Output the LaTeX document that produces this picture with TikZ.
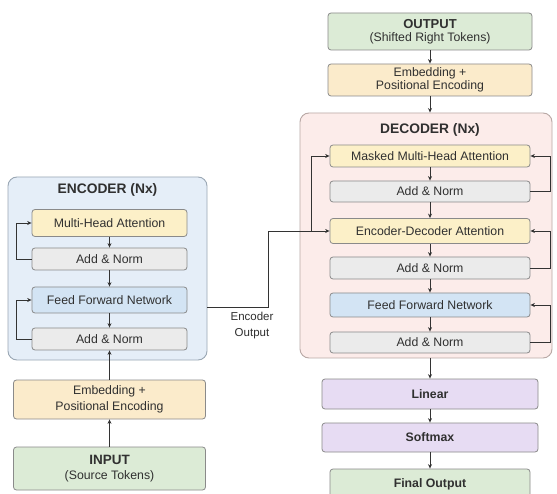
\documentclass[tikz,border=0pt]{standalone}
\usepackage{fontspec}
\setmainfont{Liberation Sans}
\usetikzlibrary{arrows.meta,calc}
\definecolor{encbg}{HTML}{E5EEF8}
\definecolor{encbd}{HTML}{9AA7B4}
\definecolor{decbg}{HTML}{FCECEA}
\definecolor{decbd}{HTML}{B8A8A5}
\definecolor{cyel}{HTML}{FCF0C8}
\definecolor{cgray}{HTML}{EBEBEB}
\definecolor{cblue}{HTML}{D3E4F4}
\definecolor{cbeige}{HTML}{FBEBCB}
\definecolor{cgreen}{HTML}{DCEBD6}
\definecolor{cpurple}{HTML}{E7DCF3}
\definecolor{bordc}{HTML}{8A8A8A}
\definecolor{linec}{HTML}{333333}
\definecolor{txtc}{HTML}{303030}
\begin{document}
\begin{tikzpicture}[x=1pt,y=-1pt,
  box/.style={draw=bordc, rounded corners=3pt, line width=0.8pt, align=center, inner sep=0pt,
    font=\fontsize{12.3}{14}\selectfont, text=txtc},
  container/.style={draw=#1, rounded corners=9pt, line width=0.9pt, inner sep=0pt},
  ttl/.style={font=\fontsize{13.8}{15}\selectfont\bfseries, text=txtc},
  arr/.style={draw=linec, line width=0.8pt, -{Stealth[length=4.5pt,width=4pt]}},
  lbl/.style={font=\fontsize{11.5}{16}\selectfont, text=txtc, align=center}
]
\useasboundingbox (0,0) rectangle (557,494);
\fill[white] (0,0) rectangle (557,494);

% Encoder
\node[container=encbd, fill=encbg, minimum width=199, minimum height=183] (enc) at (107.5,268.5) {};
\node[ttl] (enct) at (107.5,190) {ENCODER (Nx)};
\node[box, fill=cyel, minimum width=155, minimum height=27] (mha) at (109.5,223) {Multi-Head Attention};
\node[box, fill=cgray, minimum width=155, minimum height=22] (an1) at (109.5,259) {Add \& Norm};
\node[box, fill=cblue, minimum width=155, minimum height=26] (ffn) at (109.5,300) {Feed Forward Network};
\node[box, fill=cgray, minimum width=155, minimum height=22] (an2) at (109.5,339) {Add \& Norm};
\node[box, fill=cbeige, minimum width=192, minimum height=39, font=\fontsize{12.3}{15.5}\selectfont] (emb) at (109.5,399.5) {Embedding +\\Positional Encoding};
\node[box, fill=cgreen, minimum width=192, minimum height=43, font=\fontsize{12.3}{15}\selectfont] (inp) at (109.5,468.5)
  {{\fontsize{13.5}{15}\selectfont\bfseries INPUT}\\(Source Tokens)};

\draw[arr] (mha) -- (an1);
\draw[arr] (an1) -- (ffn);
\draw[arr] (ffn) -- (an2);
\draw[arr] (emb) -- (an2);
\draw[arr] (inp) -- (emb);
\draw[arr] (an1.west) -- ++(-15,0) |- (mha.west);
\draw[arr] (an2.west) -- ++(-15,0) |- (ffn.west);

% Decoder
\node[box, fill=cgreen, minimum width=204, minimum height=37, font=\fontsize{12.3}{13.5}\selectfont] (out) at (430,31.5)
  {{\fontsize{13}{14}\selectfont\bfseries OUTPUT}\\(Shifted Right Tokens)};
\node[box, fill=cbeige, minimum width=204, minimum height=32, font=\fontsize{12.3}{13.5}\selectfont] (demb) at (430,80)
  {Embedding +\\Positional Encoding};
\node[container=decbd, fill=decbg, minimum width=252, minimum height=245] (dec) at (426,235.5) {};
\node[ttl] (dect) at (430,130) {DECODER (Nx)};
\node[box, fill=cyel, minimum width=200, minimum height=22] (dmha) at (430,156) {Masked Multi-Head Attention};
\node[box, fill=cgray, minimum width=200, minimum height=21] (dan1) at (430,191.5) {Add \& Norm};
\node[box, fill=cyel, minimum width=200, minimum height=25] (ded) at (430,231) {Encoder-Decoder Attention};
\node[box, fill=cgray, minimum width=200, minimum height=22] (dan2) at (430,268) {Add \& Norm};
\node[box, fill=cblue, minimum width=200, minimum height=24] (dffn) at (430,305) {Feed Forward Network};
\node[box, fill=cgray, minimum width=200, minimum height=21] (dan3) at (430,342.5) {Add \& Norm};
\node[box, fill=cpurple, minimum width=216, minimum height=30, font=\fontsize{12.3}{14}\selectfont\bfseries] (lin) at (430,394) {Linear};
\node[box, fill=cpurple, minimum width=216, minimum height=29, font=\fontsize{12.3}{14}\selectfont\bfseries] (soft) at (430,437.5) {Softmax};
\node[box, fill=cgreen, minimum width=200, minimum height=30, font=\fontsize{12.3}{14}\selectfont\bfseries] (fin) at (430,484) {Final Output};

\draw[arr] (out) -- (demb);
\draw[arr] (demb.south) -- (demb.south |- dec.north);
\draw[arr] (dmha) -- (dan1);
\draw[arr] (dan1) -- (ded);
\draw[arr] (ded) -- (dan2);
\draw[arr] (dan2) -- (dffn);
\draw[arr] (dffn) -- (dan3);
\draw[arr] (lin.north |- dec.south) -- (lin.north);
\draw[arr] (lin) -- (soft);
\draw[arr] (soft) -- (fin);
\draw[arr] (dan1.east) -- ++(20,0) |- (dmha.east);
\draw[arr] (dan2.east) -- ++(20,0) |- (ded.east);
\draw[arr] (dan3.east) -- ++(20,0) |- (dffn.east);

% Encoder output
\coordinate (encout) at ($(enc.east)+(0,38.5)$);
\draw[arr] (encout) -- ++(61,0) |- (ded.west);
\draw[arr] ($(ded.west)+(-18,0)$) |- (dmha.west);
\node[lbl] (eol) at (252,326) {Encoder\\Output};
\end{tikzpicture}
\end{document}
